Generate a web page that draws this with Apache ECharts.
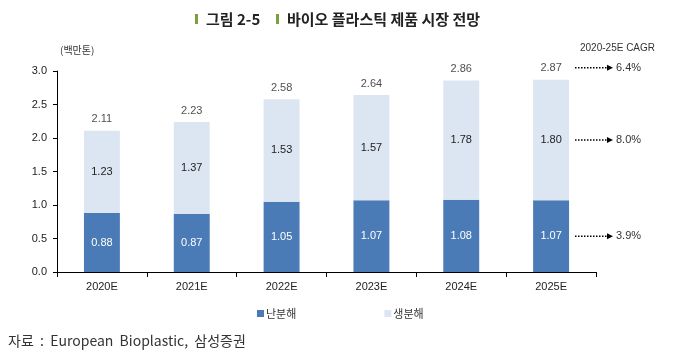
<!DOCTYPE html>
<html><head><meta charset="utf-8">
<script src="https://cdn.jsdelivr.net/npm/echarts@6/dist/echarts.min.js"></script>
<style>html,body{margin:0;padding:0;background:#fff}#c{width:679px;height:362px}</style>
</head><body><div id="c"></div>
<script>
const categories = ['2020E','2021E','2022E','2023E','2024E','2025E'];
const nonBio = [0.88,0.87,1.05,1.07,1.08,1.07];
const bio = [1.23,1.37,1.53,1.57,1.78,1.80];
const totals = [2.11,2.23,2.58,2.64,2.86,2.87];
const yTicks = [0,0.5,1.0,1.5,2.0,2.5,3.0];
const cagr = ['6.4%','8.0%','3.9%'];

const F = '"Liberation Sans", Arial, "Noto Sans CJK KR", sans-serif';
const KF = '"Noto Sans CJK KR", sans-serif';
const chart = echarts.init(document.getElementById('c'));
chart.setOption({
  animation:false,
  textStyle:{fontFamily:F},
  grid:{left:57,right:83,top:71,bottom:90},
  legend:{left:252,top:303,itemWidth:7,itemHeight:7,itemGap:88,icon:'rect',
    textStyle:{fontFamily:KF,fontSize:11,color:'#333',padding:[0,0,0,-3]},
    data:['난분해','생분해']},
  xAxis:{type:'category',data:categories,
    axisLine:{lineStyle:{color:'#000',width:1}},
    axisTick:{show:true,alignWithLabel:false,length:5,lineStyle:{color:'#000'}},
    axisLabel:{color:'#222',fontSize:11,margin:9}},
  yAxis:{type:'value',min:yTicks[0],max:yTicks[yTicks.length-1],interval:0.5,
    axisLine:{show:true,lineStyle:{color:'#000'}},
    axisTick:{show:true,length:4,lineStyle:{color:'#000'}},
    splitLine:{show:false},
    axisLabel:{color:'#222',fontSize:11,margin:10,formatter:v=>v.toFixed(1)}},
  series:[
    {name:'난분해',type:'bar',stack:'a',data:nonBio,barWidth:'40%',
      itemStyle:{color:'#4a7bb7'},
      label:{show:true,position:'inside',color:'#fff',fontSize:11,formatter:p=>p.value.toFixed(2)}},
    {name:'생분해',type:'bar',stack:'a',data:bio,barWidth:'40%',
      itemStyle:{color:'#dce6f2'},
      label:{show:true,position:'inside',color:'#222',fontSize:11,formatter:p=>p.value.toFixed(2)}},
    {name:'total',type:'scatter',data:totals,symbolSize:2,itemStyle:{color:'rgba(255,255,255,0)'},silent:true,z:5,
      label:{show:true,position:'top',distance:5,color:'#222',fontSize:11,formatter:p=>p.value.toFixed(2)}}
  ]
});

const last = categories.length-1;
const rowsY = [
  chart.convertToPixel({gridIndex:0},[last,totals[last]])[1]-12,
  chart.convertToPixel({gridIndex:0},[last,nonBio[last]+bio[last]/2])[1],
  chart.convertToPixel({gridIndex:0},[last,nonBio[last]/2])[1]
];
const g = [];
g.push({type:'rect',shape:{x:195,y:14,width:3,height:10},style:{fill:'#77a33a'}});
g.push({type:'text',x:206,y:19,style:{text:'그림 2-5',font:'bold 15px '+KF,fill:'#222',textVerticalAlign:'middle'}});
g.push({type:'rect',shape:{x:276,y:14,width:3,height:10},style:{fill:'#77a33a'}});
g.push({type:'text',x:287,y:19,style:{text:'바이오 플라스틱 제품 시장 전망',font:'bold 15px '+KF,fill:'#222',textVerticalAlign:'middle'}});
g.push({type:'text',x:60,y:50,style:{text:'(백만톤)',font:'10px '+KF,fill:'#333',textVerticalAlign:'middle'}});
g.push({type:'text',x:580,y:48,style:{text:'2020-25E CAGR',font:'10px '+F,fill:'#333',textVerticalAlign:'middle'}});
rowsY.forEach((y,i)=>{
  g.push({type:'line',shape:{x1:575,y1:y,x2:607,y2:y},style:{stroke:'#000',lineWidth:1.5,lineDash:[1.5,1.5]}});
  g.push({type:'polygon',shape:{points:[[607,y-3],[613,y],[607,y+3]]},style:{fill:'#000'}});
  g.push({type:'text',x:616,y:y,style:{text:cagr[i],font:'11px '+F,fill:'#333',textVerticalAlign:'middle'}});
});
g.push({type:'text',x:8,y:341,style:{text:'자료  :  European  Bioplastic,  삼성증권',font:'14px '+KF,fill:'#333',textVerticalAlign:'middle'}});
chart.setOption({graphic:g});
</script></body></html>
